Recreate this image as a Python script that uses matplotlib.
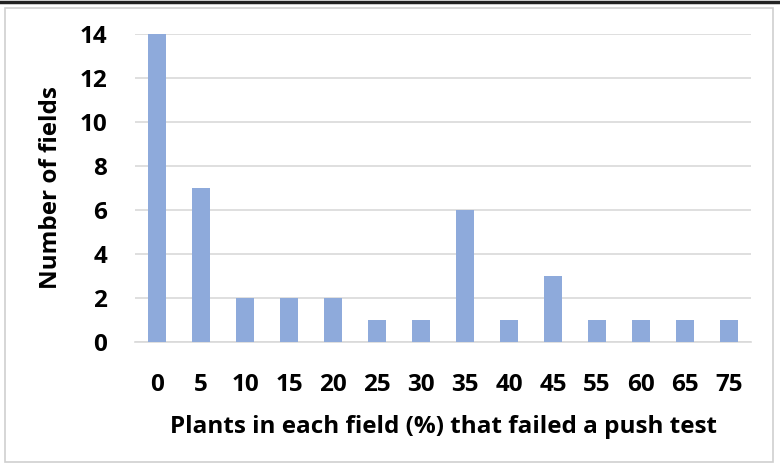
import matplotlib
matplotlib.use('Agg')
import matplotlib.pyplot as plt
from matplotlib.patches import Rectangle
from matplotlib.lines import Line2D

# percent of plants failing the push test (category labels)
categories = ['0', '5', '10', '15', '20', '25', '30', '35', '40', '45', '55', '60', '65', '75']
# number of fields in each category
n_fields = [14, 7, 2, 2, 2, 1, 1, 6, 1, 3, 1, 1, 1, 1]
y_ticks = [0, 2, 4, 6, 8, 10, 12, 14]

plt.rcParams['font.family'] = ['Open Sans', 'DejaVu Sans']

fig = plt.figure(figsize=(7.8, 4.65), dpi=100)
ax = fig.add_axes([0.173, 0.2645, 0.79, 0.6625])

x = range(len(categories))
ax.bar(x, n_fields, width=0.41, color='#8eaadb', zorder=3)

ax.set_xlim(-0.5, len(categories) - 0.5)
ax.set_ylim(0, 14)
ax.set_yticks(y_ticks)
ax.set_xticks(list(x))
ax.set_xticklabels(categories)
ax.grid(axis='y', color='#d9d9d9', linewidth=1.2, zorder=0)
ax.tick_params(length=0, labelsize=17.5)
for lbl in ax.get_xticklabels() + ax.get_yticklabels():
    lbl.set_fontweight('bold')
ax.tick_params(axis='y', pad=20)
ax.tick_params(axis='x', pad=22)

for side in ['top', 'right', 'left']:
    ax.spines[side].set_visible(False)
ax.spines['bottom'].set_color('#d9d9d9')
ax.spines['bottom'].set_linewidth(1.2)

ax.set_xlabel('Plants in each field (%) that failed a push test', fontsize=17.5,
              fontweight='bold', labelpad=13)
ax.set_ylabel('Number of fields', fontsize=17.5, fontweight='bold', labelpad=12)

# outer frame like the original screenshot
fig.patches.append(Rectangle((0.007, 0.006), 0.984, 0.976, transform=fig.transFigure,
                             fill=False, edgecolor='#cfcfcf', linewidth=1.2))
fig.lines.append(Line2D([0, 1], [0.996, 0.996], transform=fig.transFigure,
                        color='#222222', linewidth=2.5))

fig.savefig('out.png', dpi=100)
